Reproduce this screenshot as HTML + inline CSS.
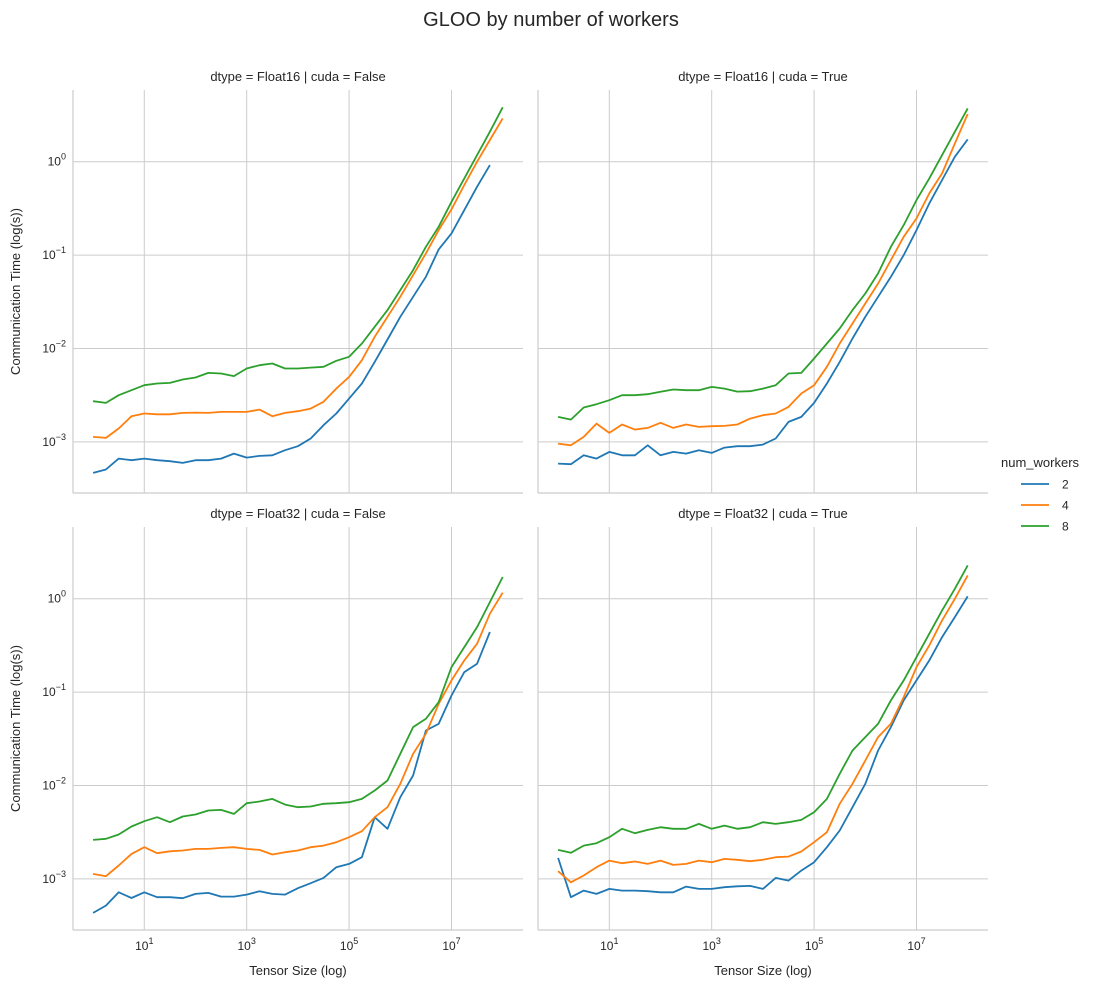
<!DOCTYPE html>
<html><head><meta charset="utf-8"><style>
html,body{margin:0;padding:0;background:#fff;}
svg{display:block;font-family:"Liberation Sans","DejaVu Sans",sans-serif;}
</style></head><body>
<svg id="chart" width="1106" height="989" viewBox="0 0 1106 989"></svg>
<script>
// x positions are log10(tensor size), 0..8 in steps of 0.25
const sizeLogs = [0,0.25,0.5,0.75,1,1.25,1.5,1.75,2,2.25,2.5,2.75,3,3.25,3.5,3.75,4,4.25,4.5,4.75,5,5.25,5.5,5.75,6,6.25,6.5,6.75,7,7.25,7.5,7.75,8];
const workers = ["2","4","8"];
const panelTitles = ["dtype = Float16 | cuda = False","dtype = Float16 | cuda = True","dtype = Float32 | cuda = False","dtype = Float32 | cuda = True"];
const xTickExps = [1,3,5,7];
const yTickExps = [0,-1,-2,-3];
// log10 of communication time (s)
const f16cpuW2 = [-3.332,-3.296,-3.179,-3.196,-3.179,-3.196,-3.207,-3.225,-3.196,-3.196,-3.179,-3.125,-3.168,-3.15,-3.143,-3.089,-3.046,-2.964,-2.821,-2.696,-2.536,-2.375,-2.143,-1.904,-1.661,-1.446,-1.232,-0.939,-0.768,-0.518,-0.268,-0.036,null];
const f16cpuW4 = [-2.946,-2.957,-2.857,-2.725,-2.696,-2.704,-2.704,-2.689,-2.686,-2.689,-2.679,-2.679,-2.679,-2.654,-2.725,-2.689,-2.671,-2.643,-2.571,-2.429,-2.304,-2.125,-1.875,-1.661,-1.446,-1.214,-0.982,-0.732,-0.511,-0.25,0,0.232,0.464];
const f16cpuW8 = [-2.564,-2.582,-2.5,-2.446,-2.393,-2.375,-2.368,-2.332,-2.311,-2.261,-2.268,-2.296,-2.214,-2.179,-2.161,-2.214,-2.214,-2.204,-2.196,-2.132,-2.089,-1.946,-1.768,-1.589,-1.375,-1.161,-0.911,-0.696,-0.429,-0.179,0.071,0.321,0.582];
const f16gpuW2 = [-3.232,-3.239,-3.143,-3.179,-3.107,-3.143,-3.143,-3.036,-3.143,-3.107,-3.125,-3.089,-3.118,-3.061,-3.046,-3.046,-3.029,-2.964,-2.786,-2.732,-2.582,-2.375,-2.143,-1.893,-1.661,-1.446,-1.232,-1.0,-0.732,-0.446,-0.196,0.054,0.239];
const f16gpuW4 = [-3.018,-3.036,-2.946,-2.804,-2.904,-2.814,-2.868,-2.85,-2.796,-2.85,-2.814,-2.839,-2.832,-2.829,-2.814,-2.75,-2.714,-2.696,-2.625,-2.482,-2.393,-2.196,-1.946,-1.732,-1.518,-1.304,-1.054,-0.804,-0.607,-0.339,-0.125,0.196,0.511];
const f16gpuW8 = [-2.732,-2.761,-2.632,-2.596,-2.554,-2.5,-2.5,-2.489,-2.464,-2.439,-2.446,-2.446,-2.411,-2.429,-2.461,-2.457,-2.429,-2.393,-2.268,-2.261,-2.107,-1.946,-1.786,-1.589,-1.411,-1.196,-0.911,-0.679,-0.411,-0.179,0.071,0.321,0.571];
const f32cpuW2 = [-3.364,-3.286,-3.143,-3.204,-3.143,-3.196,-3.196,-3.207,-3.161,-3.15,-3.189,-3.189,-3.168,-3.132,-3.161,-3.168,-3.1,-3.046,-2.989,-2.875,-2.839,-2.768,-2.339,-2.464,-2.125,-1.893,-1.411,-1.339,-1.036,-0.786,-0.696,-0.357,null];
const f32cpuW4 = [-2.946,-2.971,-2.857,-2.732,-2.661,-2.725,-2.704,-2.696,-2.679,-2.679,-2.668,-2.661,-2.679,-2.689,-2.739,-2.714,-2.696,-2.661,-2.643,-2.607,-2.554,-2.489,-2.339,-2.232,-1.982,-1.661,-1.446,-1.125,-0.875,-0.661,-0.482,-0.161,0.064];
const f32cpuW8 = [-2.582,-2.571,-2.525,-2.439,-2.382,-2.339,-2.393,-2.332,-2.311,-2.268,-2.261,-2.304,-2.189,-2.171,-2.143,-2.204,-2.232,-2.225,-2.196,-2.189,-2.179,-2.143,-2.054,-1.946,-1.661,-1.375,-1.286,-1.107,-0.732,-0.518,-0.304,-0.036,0.232];
const f32gpuW2 = [-2.775,-3.196,-3.125,-3.161,-3.107,-3.125,-3.125,-3.132,-3.143,-3.143,-3.082,-3.107,-3.107,-3.089,-3.079,-3.075,-3.107,-2.989,-3.018,-2.911,-2.821,-2.661,-2.482,-2.232,-1.982,-1.625,-1.375,-1.089,-0.875,-0.661,-0.411,-0.196,0.025];
const f32gpuW4 = [-2.918,-3.036,-2.964,-2.875,-2.804,-2.832,-2.814,-2.839,-2.804,-2.85,-2.839,-2.804,-2.821,-2.786,-2.796,-2.811,-2.796,-2.768,-2.761,-2.707,-2.607,-2.5,-2.196,-1.982,-1.732,-1.482,-1.339,-1.054,-0.732,-0.5,-0.232,0,0.25];
const f32gpuW8 = [-2.689,-2.721,-2.643,-2.618,-2.554,-2.464,-2.511,-2.475,-2.446,-2.464,-2.464,-2.411,-2.464,-2.429,-2.464,-2.446,-2.393,-2.411,-2.393,-2.368,-2.286,-2.143,-1.875,-1.625,-1.482,-1.339,-1.089,-0.875,-0.625,-0.375,-0.125,0.107,0.357];

const colors = ["#1f77b4","#ff7f0e","#2ca02c"];
const NS = "http://www.w3.org/2000/svg";
const svg = document.getElementById("chart");
function mk(tag, attrs, parent){const e=document.createElementNS(NS,tag);for(const k in attrs)e.setAttribute(k,attrs[k]);(parent||svg).appendChild(e);return e;}

const panels = [
 {x0:73,y0:90,series:[f16cpuW2,f16cpuW4,f16cpuW8],left:true,bottom:false},
 {x0:538,y0:90,series:[f16gpuW2,f16gpuW4,f16gpuW8],left:false,bottom:false},
 {x0:73,y0:527,series:[f32cpuW2,f32cpuW4,f32cpuW8],left:true,bottom:true},
 {x0:538,y0:527,series:[f32gpuW2,f32gpuW4,f32gpuW8],left:false,bottom:true}
];
const W=450,H=403;

const title = mk("text",{x:551,y:26,"text-anchor":"middle","font-size":"20",fill:"#262626"});
title.textContent="GLOO by number of workers";



panels.forEach((p,pi)=>{
  const g = mk("g",{});
  
  
  const xs = v => p.x0 + 20.1 + 51.2*v;
  const ys = v => p.y0 + 71.7 - 93.4*v;
  // grid
  xTickExps.forEach(e=>{
    const l=mk("line",{x1:xs(e),x2:xs(e),y1:p.y0,y2:p.y0+H,stroke:"#cccccc","stroke-width":1},g);
    
    
  });
  yTickExps.forEach(e=>{
    const l=mk("line",{x1:p.x0,x2:p.x0+W,y1:ys(e),y2:ys(e),stroke:"#cccccc","stroke-width":1},g);
    
    
  });
  // spines
  const sl=mk("line",{x1:p.x0,x2:p.x0,y1:p.y0,y2:p.y0+H,stroke:"#cccccc","stroke-width":1.2},g);
  
  
  const sb=mk("line",{x1:p.x0,x2:p.x0+W,y1:p.y0+H,y2:p.y0+H,stroke:"#cccccc","stroke-width":1.2},g);
  
  
  // title
  const t=mk("text",{x:p.x0+W/2,y:p.y0-9,"text-anchor":"middle","font-size":"13",fill:"#262626"},g);
  t.textContent=panelTitles[pi];
  
  
  // series
  p.series.forEach((arr,si)=>{
    let d="";
    arr.forEach((v,i)=>{ if(v===null) return; d += (d?"L":"M")+xs(sizeLogs[i]).toFixed(1)+","+ys(v).toFixed(1); });
    const path=mk("path",{d:d,fill:"none",stroke:colors[si],"stroke-width":1.8,"stroke-linejoin":"round"},g);
    
    
  });
  if(p.left){
    yTickExps.forEach(e=>{
      const tx=mk("text",{x:p.x0-7,y:ys(e)+4,"text-anchor":"end","font-size":"12",fill:"#262626"},g);
      tx.innerHTML='10<tspan dy="-6" font-size="9">'+(e<0?'\u2212'+(-e):e)+'</tspan>';
      
      
    });
    const yl=mk("text",{x:0,y:0,"text-anchor":"middle","font-size":"13",fill:"#262626",transform:"translate(20,"+(p.y0+H/2)+") rotate(-90)"},g);
    yl.textContent="Communication Time (log(s))";
    
    
  }
  if(p.bottom){
    xTickExps.forEach(e=>{
      const tx=mk("text",{x:xs(e),y:p.y0+H+20,"text-anchor":"middle","font-size":"12",fill:"#262626"},g);
      tx.innerHTML='10<tspan dy="-6" font-size="9">'+e+'</tspan>';
      
      
    });
    const xl=mk("text",{x:p.x0+W/2,y:p.y0+H+45,"text-anchor":"middle","font-size":"13",fill:"#262626"},g);
    xl.textContent="Tensor Size (log)";
    
    
  }
});

// legend
const lg = mk("g",{});


const lt=mk("text",{x:1001,y:467,"font-size":"13",fill:"#262626"},lg);
lt.textContent="num_workers";


workers.forEach((w,i)=>{
  const y=484+i*21;
  const ln=mk("line",{x1:1021,x2:1049,y1:y,y2:y,stroke:colors[i],"stroke-width":1.8},lg);
  
  
  const tx=mk("text",{x:1062,y:y+4.5,"font-size":"12",fill:"#262626"},lg);
  tx.textContent=w;
  
  
});
</script>
</body></html>
